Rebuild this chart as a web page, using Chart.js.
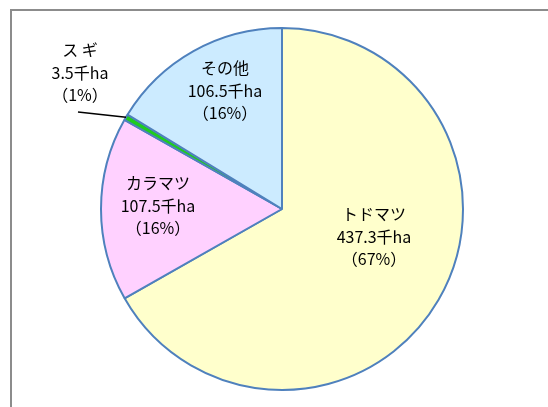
<!DOCTYPE html>
<html>
<head>
<meta charset="utf-8">
<script src="https://cdn.jsdelivr.net/npm/chart.js@4"></script>
<style>
html,body{margin:0;padding:0;background:#fff;}
#wrap{width:548px;height:407px;position:relative;}
</style>
</head>
<body>
<div id="wrap"><canvas id="c" width="548" height="407"></canvas></div>
<script>
const categories = ["トドマツ", "カラマツ", "ス ギ", "その他"];
const areaValues = [437.3, 107.5, 3.5, 106.5];
const valueLabels = ["437.3千ha", "107.5千ha", "3.5千ha", "106.5千ha"];
const percentLabels = ["（67%）", "（16%）", "（1%）", "（16%）"];

const sliceColors = ["#FFFFCC", "#FFD1FF", "#1FCC1F", "#CCEBFF"];
// label offsets relative to pie centre (px)
const labelOffsets = [[92, 28], [-124, -3], [-202, -136], [-57, -118]];

const labelPlugin = {
  id: 'labels',
  beforeDraw(chart) {
    const ctx = chart.ctx;
    ctx.save();
    ctx.strokeStyle = '#8c8c8c';
    ctx.lineWidth = 2;
    ctx.strokeRect(11, 10, 600, 500);
    ctx.restore();
  },
  afterDatasetsDraw(chart) {
    const ctx = chart.ctx;
    const meta = chart.getDatasetMeta(0);
    const arc0 = meta.data[0];
    const cx = arc0.x, cy = arc0.y, r = arc0.outerRadius;
    ctx.save();
    // leader line for スギ
    const sugi = meta.data[2];
    const mid = (sugi.startAngle + sugi.endAngle) / 2;
    const ex = cx + Math.cos(mid) * r, ey = cy + Math.sin(mid) * r;
    ctx.strokeStyle = '#000';
    ctx.lineWidth = 1.5;
    ctx.beginPath();
    ctx.moveTo(cx - 204, cy - 97);
    ctx.lineTo(ex, ey);
    ctx.stroke();
    ctx.fillStyle = '#000';
    ctx.textAlign = 'center';
    ctx.textBaseline = 'middle';
    ctx.font = '16px "Noto Sans CJK JP"';
    categories.forEach((name, i) => {
      const x = cx + labelOffsets[i][0];
      const y = cy + labelOffsets[i][1];
      ctx.fillText(name, x, y - 23);
      ctx.fillText(valueLabels[i], x, y);
      ctx.fillText(percentLabels[i], x, y + 22);
    });
    ctx.restore();
  }
};

new Chart(document.getElementById('c'), {
  type: 'pie',
  data: {
    labels: categories,
    datasets: [{
      data: areaValues,
      backgroundColor: sliceColors,
      borderColor: '#4F81BD',
      borderWidth: 2
    }]
  },
  options: {
    responsive: false,
    animation: false,
    layout: { padding: { left: 100, right: 84, top: 27, bottom: 16 } },
    plugins: { legend: { display: false }, tooltip: { enabled: false } }
  },
  plugins: [labelPlugin]
});
</script>
</body>
</html>
